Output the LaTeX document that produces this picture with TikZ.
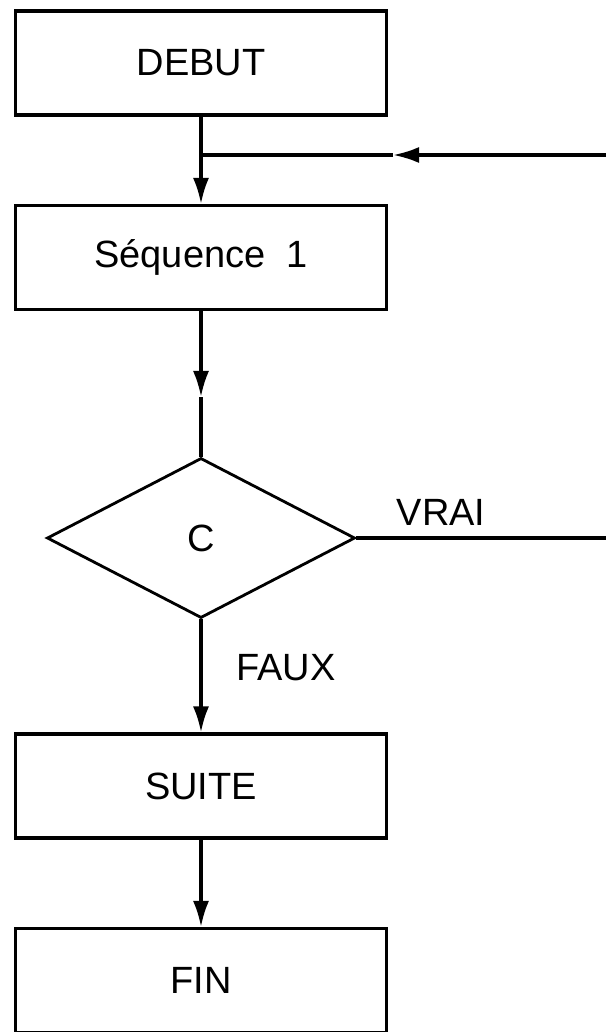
\documentclass[tikz,border=0pt]{standalone}
\usepackage{fontspec}
\setmainfont{Liberation Sans}
\usetikzlibrary{shapes.geometric,arrows.meta}

\tikzset{
  boite/.style={draw, line width=2.2pt, minimum width=9.25cm, minimum height=2.6cm, inner sep=0pt, font=\fontsize{27}{32}\selectfont},
  test/.style={draw, diamond, line width=2pt, minimum width=7.7cm, minimum height=4cm, inner sep=0pt, font=\fontsize{27}{32}\selectfont},
  etiq/.style={inner sep=0pt, font=\fontsize{27}{32}\selectfont},
  trait/.style={line width=2.2pt},
  fleche/.style={line width=2.2pt, -{Latex[length=6.5mm,width=4mm]}}
}

\begin{document}
\begin{tikzpicture}[x=0.025cm, y=-0.025cm]
  \useasboundingbox (0,0) rectangle (606,1032);

  % les blocs
  \node[boite] (debut) at (201,63) {DEBUT};
  \node[boite] (seq) at (201,257.5) {Séquence\ \ 1};
  \node[test] (cond) at (201,538) {C};
  \node[boite] (suite) at (201,786) {SUITE};
  \node[boite] (fin) at (201,980.5) {FIN};

  % points libres (retour de boucle, pointes de fleches)
  \coordinate (retour) at (606,155);
  \coordinate (pointe) at (393,155);
  \coordinate (pointe2) at (201,397);
  \coordinate (sortie) at (606,538);

  % liaisons
  \draw[fleche] (debut) -- (seq);
  \draw[fleche] (retour) -- (pointe);
  \draw[trait] (pointe) -- (debut.south |- pointe);
  \draw[fleche] (seq) -- (pointe2);
  \draw[trait] (pointe2) -- (cond.north);
  \draw[trait] (cond.east) -- (sortie);
  \draw[fleche] (cond.south) -- (suite.north);
  \draw[fleche] (suite) -- (fin);

  % etiquettes
  \node[etiq] (vrai) at (441,512) {VRAI};
  \node[etiq] (faux) at (286,668) {FAUX};
\end{tikzpicture}
\end{document}
